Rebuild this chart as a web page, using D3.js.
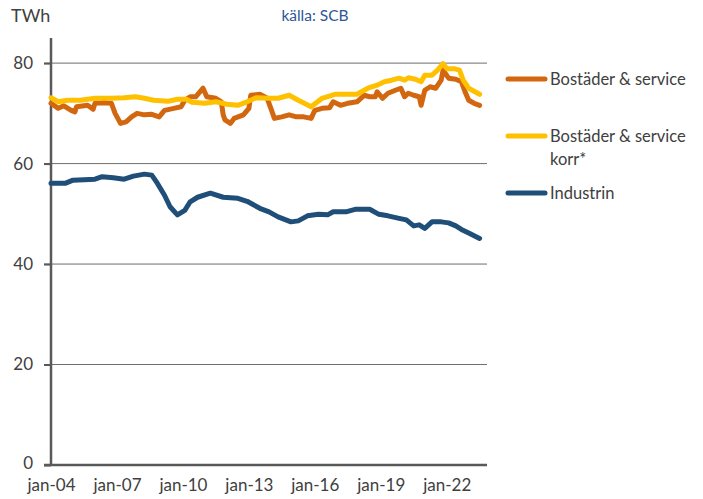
<!DOCTYPE html>
<html>
<head>
<meta charset="utf-8">
<script src="https://cdn.jsdelivr.net/npm/d3@7"></script>
<style>
  html, body { margin: 0; padding: 0; background: #fff; }
  svg { display: block; font-family: Lato, "Liberation Sans", sans-serif; }
</style>
</head>
<body>
<svg id="chart" width="703" height="499"></svg>
<script>
// ---- Data ----
const seriesNames = ["Bostäder & service", "Bostäder & service korr*", "Industrin"];
const legendLines = [["Bostäder & service"], ["Bostäder & service", "korr*"], ["Industrin"]];
const yTicks = [0, 20, 40, 60, 80];
const xTickYears = [2004, 2007, 2010, 2013, 2016, 2019, 2022];

const bostaderDates = ["2004-01","2004-05","2004-08","2004-12","2005-02","2005-03","2005-09","2005-12","2006-01","2006-06","2006-10","2006-12","2007-03","2007-06","2007-09","2007-12","2008-04","2008-08","2008-12","2009-03","2009-08","2009-12","2010-02","2010-05","2010-08","2010-12","2011-02","2011-07","2011-10","2011-11","2011-12","2012-03","2012-05","2012-10","2013-01","2013-02","2013-07","2013-11","2014-01","2014-03","2014-07","2014-11","2015-03","2015-07","2015-11","2016-01","2016-05","2016-09","2016-11","2017-03","2017-07","2017-12","2018-04","2018-07","2018-10","2018-11","2019-02","2019-05","2019-09","2019-12","2020-02","2020-04","2020-07","2020-10","2020-11","2021-01","2021-04","2021-07","2021-10","2021-11","2022-02","2022-06","2022-09","2022-11","2023-01","2023-04","2023-07"];
const bostaderValues = [72.0,71.0,71.5,70.6,70.3,71.3,71.6,70.8,72.0,72.1,72.0,70.0,68.0,68.3,69.3,70.0,69.7,69.8,69.3,70.6,71.0,71.3,72.6,73.3,73.3,75.0,73.3,73.0,72.3,69.7,68.7,68.0,69.0,69.7,71.0,73.6,73.8,73.0,71.0,69.0,69.3,69.7,69.3,69.3,69.0,70.6,71.0,71.1,72.3,71.6,72.0,72.3,73.6,73.3,73.3,74.3,73.0,74.0,74.6,75.0,73.3,74.0,73.6,73.3,71.6,74.6,75.3,75.0,76.6,78.6,77.0,76.8,76.3,74.3,72.6,72.0,71.6];

const korrDates = ["2004-01","2004-05","2004-10","2005-05","2006-01","2006-10","2007-05","2007-11","2008-04","2008-09","2009-05","2009-10","2010-03","2010-06","2011-01","2011-07","2012-01","2012-07","2012-12","2013-05","2013-12","2014-05","2014-11","2015-04","2015-11","2016-05","2016-12","2017-12","2018-06","2018-11","2019-03","2019-07","2019-11","2020-02","2020-04","2020-08","2020-11","2021-01","2021-05","2021-08","2021-11","2022-01","2022-05","2022-08","2022-10","2023-01","2023-04","2023-07"];
const korrValues = [73.1,72.3,72.6,72.6,73.0,73.0,73.1,73.3,73.0,72.6,72.4,72.8,72.8,72.2,72.0,72.3,71.8,71.6,72.3,73.1,73.0,73.0,73.6,72.6,71.3,73.0,73.8,73.8,75.0,75.6,76.3,76.6,77.0,76.6,77.1,76.8,76.3,77.6,77.6,78.6,79.9,78.9,78.9,78.6,76.6,75.0,74.4,73.8];

const industrinDates = ["2004-01","2004-09","2005-01","2006-01","2006-05","2006-11","2007-05","2007-10","2008-04","2008-08","2008-11","2009-03","2009-06","2009-10","2010-02","2010-05","2010-09","2011-04","2011-11","2012-07","2012-12","2013-07","2013-12","2014-05","2014-12","2015-04","2015-09","2016-03","2016-08","2016-11","2017-06","2017-11","2018-07","2018-12","2019-05","2019-11","2020-03","2020-07","2020-10","2021-01","2021-05","2021-10","2022-02","2022-06","2022-09","2023-01","2023-07"];
const industrinValues = [56.1,56.1,56.7,56.9,57.4,57.2,56.9,57.5,57.9,57.7,56.1,53.7,51.4,49.8,50.7,52.4,53.3,54.1,53.3,53.1,52.5,51.1,50.4,49.4,48.4,48.6,49.6,49.9,49.8,50.4,50.4,50.9,50.9,49.9,49.6,49.1,48.8,47.6,47.8,47.1,48.4,48.4,48.2,47.6,46.9,46.2,45.1];

const colors = ["#D3670F", "#FFC000", "#1F4E79"];

// ---- Chart ----
const parse = d3.timeParse("%Y-%m");
const svg = d3.select("#chart");
const textColor = "#404040";

const x = d3.scaleTime()
  .domain([parse("2004-01"), parse("2023-11")])
  .range([51, 487]);
const y = d3.scaleLinear().domain([0, 85]).range([465, 38]);

// gridlines
svg.append("g")
  .selectAll("line")
  .data(yTicks.filter(d => d > 0))
  .join("line")
  .attr("x1", 44).attr("x2", 487)
  .attr("y1", d => y(d)).attr("y2", d => y(d))
  .attr("stroke", "#6e6e6e").attr("stroke-width", 1);

// y axis
const yAxis = svg.append("g")
  .attr("transform", "translate(51,0)")
  .call(d3.axisLeft(y).tickValues(yTicks).tickSize(7).tickPadding(11).tickFormat(d3.format("d")));
yAxis.select(".domain").attr("stroke", "#595959").attr("stroke-width", 2.5).attr("d", `M0,${y(85)}V${y(0)}`);
yAxis.selectAll(".tick line").attr("stroke", "#595959").attr("stroke-width", 2);
yAxis.selectAll(".tick text").attr("fill", textColor).style("font-size", "17px").style("font-family", "Lato");
yAxis.selectAll(".tick text").filter(d => d === 0).attr("dy", "0.2em");

// x axis
const xAxis = svg.append("g")
  .attr("transform", "translate(0,465)")
  .call(d3.axisBottom(x)
    .tickValues(xTickYears.map(yr => new Date(yr, 0, 1)))
    .tickSize(0).tickPadding(14)
    .tickFormat(d3.timeFormat("jan-%y")));
xAxis.select(".domain").attr("stroke", "#595959").attr("stroke-width", 2.5).attr("d", "M44,0H487");
xAxis.selectAll(".tick text").attr("fill", textColor).style("font-size", "17px").style("font-family", "Lato");

// lines
const seriesData = [
  bostaderDates.map((d, i) => ({ date: parse(d), value: bostaderValues[i] })),
  korrDates.map((d, i) => ({ date: parse(d), value: korrValues[i] })),
  industrinDates.map((d, i) => ({ date: parse(d), value: industrinValues[i] }))
];
const line = d3.line().x(d => x(d.date)).y(d => y(d.value));
svg.append("g")
  .selectAll("path")
  .data(seriesData)
  .join("path")
  .attr("d", line)
  .attr("fill", "none")
  .attr("stroke", (d, i) => colors[i])
  .attr("stroke-width", 5)
  .attr("stroke-linejoin", "round")
  .attr("stroke-linecap", "round");

// unit label & source
svg.append("text").attr("x", 11).attr("y", 22).text("TWh")
  .attr("fill", textColor).style("font-size", "18px");
svg.append("text").attr("x", 315).attr("y", 21).attr("text-anchor", "middle").text("källa: SCB")
  .attr("fill", "#2F5597").style("font-size", "15.5px");

// legend
const legendY = [79, 136, 193];
const lg = svg.append("g");
legendLines.forEach((lines, i) => {
  lg.append("line")
    .attr("x1", 508).attr("x2", 545)
    .attr("y1", legendY[i]).attr("y2", legendY[i])
    .attr("stroke", colors[i]).attr("stroke-width", 5).attr("stroke-linecap", "round");
  const t = lg.append("text").attr("x", 550).attr("y", legendY[i] + 6)
    .attr("fill", textColor).style("font-size", "16.5px");
  lines.forEach((s, j) => {
    t.append("tspan").attr("x", 550).attr("dy", j === 0 ? 0 : 23).text(s);
  });
});
</script>
</body>
</html>
